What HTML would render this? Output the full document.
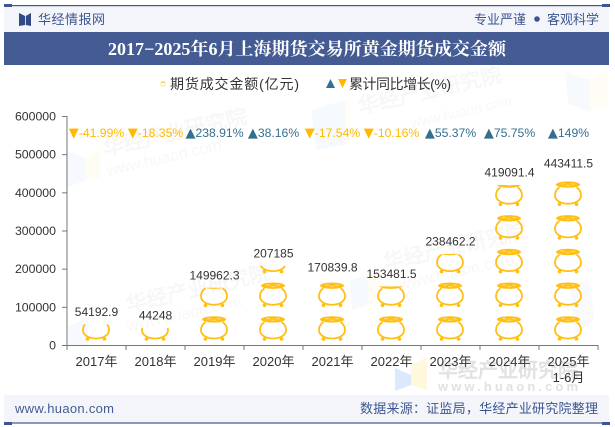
<!DOCTYPE html>
<html>
<head>
<meta charset="utf-8">
<title>2017-2025年6月上海期货交易所黄金期货成交金额</title>
<style>
html,body{margin:0;padding:0;background:#fff;width:615px;height:427px;overflow:hidden}
svg{display:block}
text{font-family:"Liberation Sans","WenQuanYi Zen Hei",sans-serif}
</style>
</head>
<body>
<svg id="chart" xmlns="http://www.w3.org/2000/svg" width="615" height="427" viewBox="0 0 615 427">
<defs>
<g id="pot">
<path d="M-8.5,-19 C-11.5,-17 -13,-14 -13,-11 C-13,-6 -7.5,-2.5 0,-2.5 C7.5,-2.5 13,-6 13,-11 C13,-14 11.5,-17 8.5,-19" fill="none" stroke="#FFBF14" stroke-width="1.8"/>
<ellipse cx="0" cy="-21.6" rx="12" ry="3.2" fill="#FFBF14"/>
<ellipse cx="-5" cy="-22.4" rx="2.2" ry="0.7" fill="#FFD869"/>
<ellipse cx="0" cy="-20.8" rx="2.2" ry="0.7" fill="#FFD869"/>
<ellipse cx="5" cy="-22.2" rx="2.2" ry="0.7" fill="#FFD869"/>
<circle cx="-8.5" cy="-2" r="1.8" fill="#FFBF14"/>
<circle cx="8.5" cy="-2" r="1.8" fill="#FFBF14"/>
</g>
</defs>

<rect width="615" height="427" fill="#fff"/>

<g>
<g opacity="0.5">
<polygon points="66,150 85,158 85,180 66,188" fill="#eef4fc"/><polygon points="85,158 100,150 100,178 85,180" fill="#fffbea"/>
<polygon points="311,110 345,100 345,145 316,150" fill="#f1f6fd"/><polygon points="345,100 350,100 350,140 345,145" fill="#fffbea"/>
<polygon points="565,72 590,80 590,112 568,104" fill="#f1f6fd"/><polygon points="590,80 608,66 608,106 590,112" fill="#fffcee"/>
<polygon points="68,326 88,318 88,345 68,345" fill="#eef4fc"/>
<polygon points="350,280 368,275 368,305 352,310" fill="#f1f6fd"/><polygon points="368,275 382,270 380,300 368,305" fill="#fffbea"/>
<polygon points="570,285 590,280 594,320 575,335" fill="#f1f6fd"/>
</g>
<g font-weight="bold" fill="#000" opacity="0.035">
<text transform="translate(360,114) rotate(-13)" font-size="21">华经产业研究院</text>
<text transform="translate(412,128) rotate(-13)" font-size="14" font-weight="normal">www.huaon.com</text>
<text transform="translate(105,156) rotate(-13)" font-size="21">华经产业研究院</text>
<text transform="translate(108,176) rotate(-13)" font-size="16" font-weight="normal">www.huaon.com</text>
<text transform="translate(128,312) rotate(-13)" font-size="21">华经产业研究院</text>
<text transform="translate(128,332) rotate(-13)" font-size="16" font-weight="normal">www.huaon.com</text>
<text transform="translate(385,270) rotate(-13)" font-size="21">华经产业研究院</text>
<text transform="translate(400,290) rotate(-13)" font-size="16" font-weight="normal">www.huaon.com</text>
</g>
<g>
<polygon points="395,368 411,375 411,385 395,391" fill="#dbe9fc"/>
<polygon points="411,365 427,357 427,390 411,385" fill="#fff8dd"/>
<text x="438" y="377" font-size="20" font-weight="bold" fill="#e2e2e2" textLength="140">华经产业研究院</text>
<text x="438" y="391" font-size="13" font-weight="bold" fill="#e2e2e2" textLength="140">www.huaon.com</text>
</g>
</g>

<g>
<rect x="4" y="6" width="605" height="26" fill="#f3f5fa"/>
<rect x="4" y="5" width="606" height="1.2" fill="#3d5590"/>
<rect x="4" y="4" width="8" height="3" fill="#3d5590"/>
<rect x="602" y="4" width="8" height="3" fill="#3d5590"/>
<g fill="#2f4a85">
<polygon points="19,13 25,16 25,25 19,26"/><polygon points="31,13 25.8,16 25.8,25 31,26"/>
</g>
<text x="38" y="24" font-size="13" fill="#3d5590" textLength="67">华经情报网</text>
<text x="474" y="24" font-size="13" fill="#3d5590" textLength="52">专业严谨</text>
<circle cx="537" cy="19" r="2.8" fill="#3d5590"/>
<text x="547" y="24" font-size="13" fill="#3d5590" textLength="52">客观科学</text>
<rect x="4" y="32" width="605" height="33" fill="#445c93"/>
<text x="108" y="55" font-size="17.5" font-weight="bold" fill="#fff" textLength="398" lengthAdjust="spacingAndGlyphs" style="font-family:'Liberation Serif','Noto Serif CJK SC',serif">2017−2025年6月上海期货交易所黄金期货成交金额</text>
</g>

<g>
<g>
<use href="#pot" transform="translate(163,86.5) scale(0.2)"/>
<text x="170" y="89" font-size="14" fill="#333" textLength="129" style="font-family:'WenQuanYi Zen Hei',sans-serif">期货成交金额(亿元)</text>
</g>
<g>
<polygon points="326,88 335,88 330.5,79" fill="#33708f"/>
<polygon points="338,79 347,79 342.5,88" fill="#FFB900"/>
<text x="349" y="89" font-size="14" fill="#333" textLength="102" style="font-family:'WenQuanYi Zen Hei',sans-serif">累计同比增长(%)</text>
</g>
</g>

<g id="axes"></g>
<g id="marks"></g>
<g id="value-labels"></g>
<g id="growth-labels"></g>

<g>
<rect x="4" y="395" width="605" height="28" fill="#f3f5fa"/>
<rect x="4" y="422.4" width="606" height="1.2" fill="#3d5590"/>
<rect x="4" y="422" width="8" height="3" fill="#3d5590"/>
<rect x="602" y="422" width="8" height="3" fill="#3d5590"/>
<text x="15" y="413" font-size="13" fill="#445c93" textLength="99">www.huaon.com</text>
<text x="360" y="413" font-size="13" fill="#3d5590" textLength="238">数据来源：证监局，华经产业研究院整理</text>
</g>
</svg>

<script>
const categories = ['2017年','2018年','2019年','2020年','2021年','2022年','2023年','2024年','2025年'];
const categorySubLabels = ['','','','','','','','','1-6月'];
const amountValues = [54192.9,44248,149962.3,207185,170839.8,153481.5,238462.2,419091.4,443411.5];
const growthValues = [-41.99,-18.35,238.91,38.16,-17.54,-10.16,55.37,75.75,149];
const yTicks = [0,100000,200000,300000,400000,500000,600000];

const NS = 'http://www.w3.org/2000/svg';
const plot = {left:67, right:598, top:116, bottom:345, yMax:600000};
const potPitch = 33.7, potBase = 341;
const bandW = (plot.right - plot.left) / categories.length;
const xBand = i => plot.left + bandW * (i + 0.5);
const yVal = v => plot.bottom - (v / plot.yMax) * (plot.bottom - plot.top);
function mk(tag, parent, attrs){
  const e = document.createElementNS(NS, tag);
  for (const k in attrs) e.setAttribute(k, attrs[k]);
  parent.appendChild(e);
  return e;
}

const axes = document.getElementById('axes');
const axisColor = '#777';
const yAxisLine = mk('line', axes, {x1:plot.left,x2:plot.left,y1:plot.top,y2:plot.bottom,stroke:axisColor,'stroke-width':1});


const xAxisLine = mk('line', axes, {x1:plot.left,x2:plot.right,y1:plot.bottom+0.5,y2:plot.bottom+0.5,stroke:axisColor,'stroke-width':1});


yTicks.forEach(t => {
  const y = yVal(t);
  const tick = mk('line', axes, {x1:plot.left-5,x2:plot.left,y1:y+0.5,y2:y+0.5,stroke:axisColor,'stroke-width':1});
  
  
  const lab = mk('text', axes, {x:56,y:y+4.5,'text-anchor':'end','font-size':12.3,fill:'#333'});
  
  
  lab.textContent = t;
});
for (let i = 0; i <= categories.length; i++){
  const x = plot.left + bandW * i;
  const tick = mk('line', axes, {x1:x,x2:x,y1:plot.bottom,y2:plot.bottom+5,stroke:axisColor,'stroke-width':1});
  
  
}
categories.forEach((c, i) => {
  const lab = mk('text', axes, {x:xBand(i),y:366,'text-anchor':'middle','font-size':13,fill:'#333'});
  
  
  lab.textContent = c;
  if (categorySubLabels[i]){
    const sub = mk('text', axes, {x:xBand(i),y:382,'text-anchor':'middle','font-size':13,fill:'#333'});
    
    
    sub.textContent = categorySubLabels[i];
  }
});

const defs = document.querySelector('defs');
const marks = document.getElementById('marks');
amountValues.forEach((v, i) => {
  const top = yVal(v);
  const clip = mk('clipPath', defs, {id:'clip-' + i});
  mk('rect', clip, {x:xBand(i)-20,y:top,width:40,height:plot.bottom-top});
  const bar = mk('g', marks, {'clip-path':'url(#clip-' + i + ')'});
  
  
  for (let r = 0; potBase - r * potPitch > top; r++){
    const pot = mk('use', bar, {href:'#pot',transform:'translate(' + (xBand(i) - 0.5) + ',' + (potBase - r * potPitch) + ')'});
    
    
  }
});

const valueLabels = document.getElementById('value-labels');
amountValues.forEach((v, i) => {
  const t = mk('text', valueLabels, {x:xBand(i),y:yVal(v)-8.5,'text-anchor':'middle','font-size':12,fill:'#333'});
  
  
  t.textContent = v;
});

const growthLabels = document.getElementById('growth-labels');
growthValues.forEach((g, i) => {
  const up = g >= 0;
  const color = up ? '#33708f' : '#FFB900';
  const t = mk('text', growthLabels, {x:xBand(i),y:137,'text-anchor':'middle','font-size':12.2,fill:color});
  
  
  const glyph = mk('tspan', t, {'font-size':13,style:'font-family:"DejaVu Sans",sans-serif'});
  glyph.textContent = up ? '▲' : '▼';
  const num = mk('tspan', t, {});
  num.textContent = g + '%';
});
</script>
</body>
</html>
